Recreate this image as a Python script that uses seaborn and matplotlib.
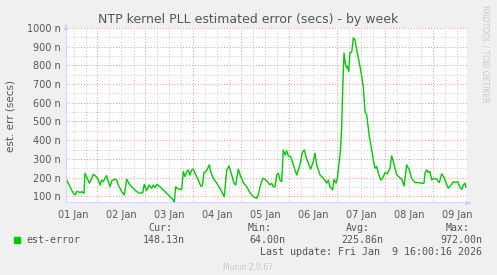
import matplotlib
matplotlib.use("Agg")
import matplotlib.pyplot as plt
import seaborn as sns
import pandas as pd
import numpy as np

# hours since 2026-01-01 00:00
hours = [8.6, 10.25, 11.9, 12.75, 13.6, 14.4, 15.25, 16.1, 16.9, 17.25, 17.75, 18.9, 19.9, 21.1,
         21.9, 23.1, 24.1, 25.25, 26.1, 26.9, 27.75, 28.6, 29.4, 30.25, 31.25, 32.75, 33.6, 34.4,
         36.1, 37.4, 38.6, 40.25, 41.9, 43.6, 45.25, 46.6, 47.4, 48.6, 49.75, 51.1, 51.9, 52.75,
         53.6, 55.25, 56.9, 58.6, 60.25, 61.9, 62.4, 63.1, 63.6, 65.25, 66.1, 66.9, 67.75, 68.6,
         69.4, 70.25, 71.1, 71.9, 72.75, 74.4, 75.6, 76.4, 77.25, 78.1, 78.9, 79.9, 80.6, 81.9,
         83.6, 85.25, 86.9, 87.4, 88.6, 89.75, 91.1, 92.25, 93.1, 94.4, 95.6, 96.9, 98.6, 99.9,
         100.25, 101.9, 103.6, 104.4, 105.25, 106.6, 107.75, 109.4, 110.25, 111.1, 111.9, 112.75,
         113.6, 114.4, 115.25, 116.1, 116.9, 117.75, 118.6, 119.4, 120.6, 121.9, 123.6, 125.25,
         126.4, 127.4, 128.25, 129.4, 130.6, 131.9, 132.75, 133.6, 135.25, 136.9, 138.6, 139.4,
         140.25, 141.6, 142.25, 143.25, 143.9, 144.9, 145.6, 146.1, 146.6, 147.25, 147.9, 148.6,
         148.9, 149.6, 150.25, 151.1, 151.9, 152.75, 153.6, 155.25, 156.9, 157.75, 158.6, 159.9,
         160.25, 161.9, 162.75, 163.6, 164.4, 165.6, 166.6, 167.75, 168.9, 170.25, 171.1, 171.9,
         173.6, 174.9, 176.1, 177.25, 178.6, 179.9, 181.1, 182.75, 184.4, 186.1, 187.25, 187.75,
         188.6, 189.4, 190.25, 191.1, 192.25, 193.6, 194.9, 196.1, 197.25, 198.25, 199.4, 200.75,
         201.9, 203.1, 204.1, 205.25, 206.1, 206.9, 207.75, 208.25]
# estimated error, nanoseconds
est_error = [187, 151, 116, 107, 125, 125, 119, 125, 119, 116, 223, 196, 170, 196,
             218, 207, 196, 160, 187, 178, 196, 210, 178, 151, 185, 191, 187, 160,
             125, 107, 191, 160, 143, 125, 116, 119, 164, 130, 160, 143, 160, 146,
             164, 151, 134, 116, 98, 80, 66, 151, 143, 137, 137, 232, 205, 232,
             241, 214, 241, 245, 223, 187, 155, 155, 227, 232, 245, 268, 232, 196,
             170, 143, 107, 98, 241, 262, 214, 170, 160, 245, 205, 173, 151, 125,
             119, 98, 89, 107, 151, 196, 191, 173, 160, 170, 151, 151,
             214, 223, 187, 178, 348, 321, 343, 316, 312, 268, 214, 268,
             334, 348, 312, 277, 245, 286, 330, 268, 214, 196, 170, 187,
             151, 134, 191, 170, 196, 286, 366, 473, 669, 866, 812, 787,
             795, 768, 868, 871, 947, 937, 884, 795, 687, 553, 536, 419,
             402, 294, 250, 259, 223, 187, 196, 227, 220, 250, 316, 286,
             214, 202, 191, 155, 268, 241, 196, 173, 173, 170, 170, 223,
             241, 227, 232, 187, 196, 191, 173, 220, 202, 173, 143, 160,
             178, 173, 178, 148, 137, 160, 170, 148]

day_labels = ["01 Jan", "02 Jan", "03 Jan", "04 Jan", "05 Jan", "06 Jan", "07 Jan", "08 Jan", "09 Jan"]
y_ticks = [100, 200, 300, 400, 500, 600, 700, 800, 900, 1000]
y_tick_labels = ["100 n", "200 n", "300 n", "400 n", "500 n", "600 n", "700 n", "800 n", "900 n", "1000 n"]

df = pd.DataFrame({"hours": hours, "est_error": est_error})

sns.set_theme(style="white")
plt.rcParams['font.family'] = ['DejaVu Sans']

W, H = 497, 275
fig = plt.figure(figsize=(W / 100, H / 100), dpi=100, facecolor="#F0F0F0")
ax = fig.add_axes([66 / W, 1 - 203 / H, (467 - 66) / W, (203 - 28) / H])
ax.set_facecolor("white")

xmin, xmax = 8.25, 208.75
ymin, ymax = 64, 1000
ax.set_xlim(xmin, xmax)
ax.set_ylim(ymin, ymax)

# grid
minor_x = np.arange(12, 209, 6)
major_x = np.arange(24, 209, 24)
for xv in minor_x:
    if xv % 24 != 0:
        ax.axvline(xv, color="#C8C8C8", lw=0.7, ls=(0, (1, 2)), zorder=1)
for yv in np.arange(100, 1001, 50):
    if yv % 100 != 0:
        ax.axhline(yv, color="#C8C8C8", lw=0.7, ls=(0, (1, 2)), zorder=1)
for xv in major_x:
    ax.axvline(xv, color="#E89090", lw=0.7, ls=(0, (1, 2)), zorder=1.5)
for yv in y_ticks:
    ax.axhline(yv, color="#E89090", lw=0.7, ls=(0, (1, 2)), zorder=1.5)

sns.lineplot(data=df, x="hours", y="est_error", ax=ax, color="#00CC00", lw=1.0,
             estimator=None, sort=True, zorder=3, legend=False)

for s in ax.spines.values():
    s.set_visible(False)
ax.axvline(xmin, color="#CCCCFF", lw=1.2, zorder=4)
ax.axhline(ymin, color="#CCCCFF", lw=1.2, zorder=4)
ax.annotate("", xy=(xmin, 1030), xytext=(xmin, 1000), annotation_clip=False,
            arrowprops=dict(arrowstyle="-|>", color="#CCCCFF", lw=0.8, mutation_scale=6))
ax.annotate("", xy=(210.5, ymin), xytext=(208.75, ymin), annotation_clip=False,
            arrowprops=dict(arrowstyle="-|>", color="#CCCCFF", lw=0.8, mutation_scale=6))

ax.set_yticks(y_ticks)
ax.set_yticklabels(y_tick_labels)
ax.set_xticks([12 + 24 * i for i in range(len(day_labels))])
ax.set_xticklabels(day_labels)
ax.tick_params(axis="both", length=0, labelsize=7, colors="#555555", pad=4)
ax.tick_params(axis="x", pad=5)
ax.set_xlabel("")
ax.set_ylabel("est. err (secs)", fontsize=7.5, color="#555555", labelpad=8)

fig.text(0.5, 1 - 19 / H, "NTP kernel PLL estimated error (secs) - by week",
         ha="center", va="center", fontsize=9, color="#555555")
fig.text(485 / W, 1 - 5 / H, "RRDTOOL / TOBI OETIKER", rotation=270, ha="center", va="top",
         fontsize=5.5, color="#C8C8C8")

mono = "DejaVu Sans Mono"
tc = "#555555"
fs = 7.2
fig.patches.append(matplotlib.patches.Rectangle((14 / W, 1 - 243 / H), 6 / W, 6 / H,
                                                transform=fig.transFigure, color="#00CC00"))
fig.text(26 / W, 1 - 240 / H, "est-error", family=mono, fontsize=fs, color=tc, va="center")
fig.text(172 / W, 1 - 228 / H, "Cur:", family=mono, fontsize=fs, color=tc, va="center", ha="right")
fig.text(185 / W, 1 - 240 / H, "148.13n", family=mono, fontsize=fs, color=tc, va="center", ha="right")
fig.text(272 / W, 1 - 228 / H, "Min:", family=mono, fontsize=fs, color=tc, va="center", ha="right")
fig.text(285 / W, 1 - 240 / H, "64.00n", family=mono, fontsize=fs, color=tc, va="center", ha="right")
fig.text(370 / W, 1 - 228 / H, "Avg:", family=mono, fontsize=fs, color=tc, va="center", ha="right")
fig.text(383 / W, 1 - 240 / H, "225.86n", family=mono, fontsize=fs, color=tc, va="center", ha="right")
fig.text(470 / W, 1 - 228 / H, "Max:", family=mono, fontsize=fs, color=tc, va="center", ha="right")
fig.text(482 / W, 1 - 240 / H, "972.00n", family=mono, fontsize=fs, color=tc, va="center", ha="right")
fig.text(482 / W, 1 - 252 / H, "Last update: Fri Jan  9 16:00:16 2026", family=mono, fontsize=fs,
         color=tc, va="center", ha="right")
fig.text(248 / W, 1 - 267 / H, "Munin 2.0.67", fontsize=5.5, color="#C8C8C8", va="center", ha="center")

fig.savefig("out.png", dpi=100, facecolor=fig.get_facecolor())
